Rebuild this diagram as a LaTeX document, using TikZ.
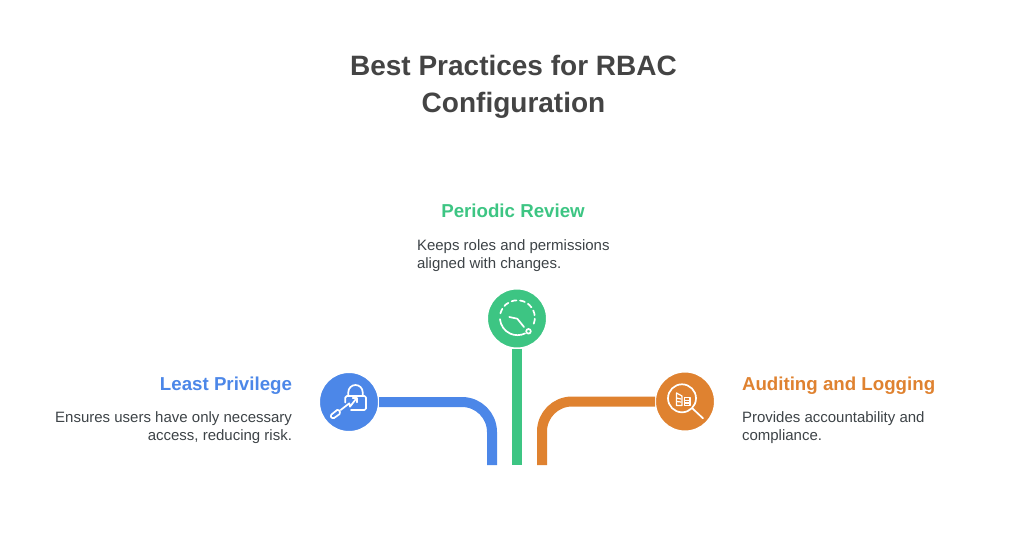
\documentclass[tikz,border=0pt]{standalone}
\usepackage{fontspec}
\setmainfont{Liberation Sans}
\definecolor{blueline}{HTML}{4C87E8}
\definecolor{greenline}{HTML}{3DC583}
\definecolor{orangeline}{HTML}{DF8230}
\definecolor{titlegray}{HTML}{444444}
\definecolor{textgray}{HTML}{3D4347}
\tikzset{
	every node/.style={inner sep=0pt, outer sep=0pt},
	title/.style={font=\fontsize{28}{37}\selectfont\bfseries, text=titlegray, align=center},
	heading/.style={font=\fontsize{18.7}{24}\selectfont\bfseries},
	desc/.style={font=\fontsize{15}{18}\selectfont, text=textgray},
	badge/.style={circle, draw=white, line width=2pt, minimum size=60pt},
	band/.style={line width=10pt, rounded corners=30pt},
	glyph/.style={draw=white, line width=1.7pt, line cap=round, line join=round}
}
\begin{document}
\begin{tikzpicture}[x=1pt, y=-1pt]
	\useasboundingbox (0,0) rectangle (1034,548);
	\node[title] (Title) at (513.5,87) {Best Practices for RBAC\\Configuration};

	\node[heading, text=greenline, anchor=center] (Review heading) at (513,211) {Periodic Review};
	\node[desc, align=left, anchor=north west] (Review text) at (417,240) {Keeps roles and permissions\\aligned with changes.};
	\node[heading, text=blueline, anchor=east] (Privilege heading) at (292,386) {Least Privilege};
	\node[desc, align=right, anchor=north east] (Privilege text) at (292,412) {Ensures users have only necessary\\access, reducing risk.};
	\node[heading, text=orangeline, anchor=west] (Logging heading) at (742,386) {Auditing and Logging};
	\node[desc, align=left, anchor=north west] (Logging text) at (742,412) {Provides accountability and\\compliance.};

	\node[badge, fill=blueline] (Privilege icon) at (349,402) {};
	\node[badge, fill=greenline] (Review icon) at (517,318.5) {};
	\node[badge, fill=orangeline] (Logging icon) at (685,401.5) {};

	\coordinate (Privilege end) at (492,465);
	\coordinate (Review end) at (517,465);
	\coordinate (Logging end) at (542,465);

	\draw[band, draw=blueline] (Privilege icon) -| (Privilege end);
	\draw[line width=10pt, draw=greenline] (Review icon) -- (Review end);
	\draw[band, draw=orangeline] (Logging icon) -| (Logging end);

	% lock and wrench
	\draw[glyph, rounded corners=1.5pt] (345.3,402.5) -- (345.3,396) -- (366,396) -- (366,410) -- (351,410);
	\draw[glyph] (348.3,395) -- (348.3,392.2) arc[start angle=180, end angle=360, radius=7.2] -- (362.7,395);
	\draw[glyph, rounded corners=1.5pt] (330,415.7) -- (338.3,409) -- (340.7,413.3) -- (332.7,419) -- cycle;
	\draw[glyph] (340.7,410) -- (349.3,403.3) -- (350,406.7) -- (355.7,399.3);
	\draw[glyph] (352.7,398.3) -- (356.7,398.3) -- (356.7,402.3);

	% clock
	\draw[glyph, dash pattern=on 5pt off 3.6pt] (533.8,323.7) arc[start angle=20, end angle=-175, radius=17.5];
	\draw[glyph] (500,319.2) arc[start angle=175, end angle=64, radius=17.5];
	\draw[glyph] (509.3,317) -- (517.3,318.7) -- (524,327);
	\draw[glyph] (528.5,331.3) circle[radius=2.3];

	% magnifier and ledger
	\draw[glyph] (682,398.3) circle[radius=14];
	\draw[glyph] (692.2,408.2) -- (703,418.3);
	\draw[glyph, line width=1.2pt] (676.5,393) -- (682,396) -- (682,405.5) -- (676.5,405.5) -- cycle;
	\draw[glyph, line width=1.2pt] (676.5,398) -- (681,399) (676.5,401.5) -- (681,402);
	\draw[glyph, line width=1.2pt] (684.5,397.5) -- (690,397.5) -- (690,405.5) -- (684.5,405.5) -- cycle;
	\draw[glyph, line width=1.2pt] (684.5,400.5) -- (690,400.5) (684.5,403) -- (690,403);
\end{tikzpicture}
\end{document}
